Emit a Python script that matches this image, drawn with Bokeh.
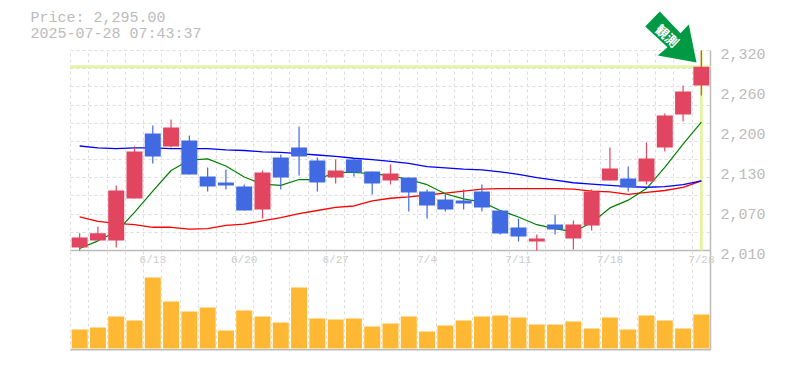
from bokeh.plotting import figure
from bokeh.embed import file_html
from bokeh.resources import INLINE
from bokeh.models import (Range1d, FixedTicker, Grid, Label, PolyAnnotation)
from bokeh.core.properties import value

opens  = [2014.6,2025.5,2025.5,2090.6,2191.4,2171.2,2180.5,2124.7,2115.4,2109.2,2073.6,2154.2,2169.7,2149.5,2123.2,2151.0,2132.5,2118.5,2123.2,2101.5,2089.0,2087.5,2101.5,2072.0,2045.7,2024.0,2050.3,2028.6,2048.8,2118.5,2121.6,2117.0,2169.7,2220.8,2265.8]
closes = [2030.2,2036.8,2103.0,2163.5,2155.7,2200.7,2127.8,2109.2,2110.8,2072.0,2130.9,2123.2,2155.7,2115.4,2134.0,2130.9,2113.9,2129.4,2099.9,2079.8,2073.6,2082.9,2076.7,2036.4,2031.7,2028.6,2042.6,2050.3,2101.5,2137.1,2107.7,2152.6,2219.3,2256.5,2295.0]
highs  = [2036.8,2047.0,2110.8,2171.2,2203.8,2213.0,2188.3,2138.7,2135.6,2112.3,2134.0,2158.8,2202.2,2154.2,2151.0,2152.6,2132.5,2143.3,2123.2,2104.6,2098.4,2104.6,2112.3,2072.0,2059.6,2034.8,2065.8,2056.5,2104.6,2169.7,2140.2,2177.4,2222.4,2265.8,2320.0]
lows   = [2010.0,2025.5,2014.6,2090.6,2144.9,2169.7,2127.8,2101.5,2104.6,2072.0,2059.6,2104.6,2126.3,2101.5,2113.9,2124.7,2096.8,2112.3,2070.5,2059.6,2070.5,2073.6,2070.5,2034.8,2024.0,2010.0,2034.8,2011.5,2041.0,2118.5,2101.5,2112.3,2163.5,2210.0,2250.3]
ma_green = [2013,2025,2039,2069,2102,2134,2150,2152,2141,2124,2113,2111,2120,2120,2131,2131,2129,2126,2120,2112,2098,2090,2085,2072,2062,2050,2044,2039,2053,2076,2088,2106,2139,2175,2209]
ma_red   = [2062,2055,2052,2050,2046,2046,2043,2044,2049,2051,2056,2061,2067,2072,2077,2079,2087,2091,2093,2096,2099,2102,2105,2106,2106,2106,2106,2105,2102,2101,2097,2100,2103,2108,2118]
ma_blue  = [2172,2169,2168,2169,2169,2168,2168,2168,2166,2165,2163,2162,2160,2158,2156,2153,2151,2148,2145,2140,2138,2136,2135,2132,2128,2123,2119,2115,2113,2111,2109,2108,2109,2112,2118]
volumes  = [19,21,32,28,71,47,37,41,18,38,32,26,61,30,29,30,22,25,32,17,23,28,32,33,31,24,24,27,20,31,19,33,28,20,34]
date_idx = [4,9,14,19,24,29,34]
date_lbl = ["6/13","6/20","6/27","7/4","7/11","7/18","7/28"]
y_ticks  = [2010,2072,2134,2196,2258,2320]
y_labels = ["2,010","2,070","2,130","2,200","2,260","2,320"]
last_price = 2295.0
title1 = "Price: 2,295.00"
title2 = "2025-07-28 07:43:37"
badge = "観測"

RED, BLUE, GREY = "#E24560", "#4169E1", "#bbbbbb"
n = len(closes)
xs = [i + 0.5 for i in range(n)]
PRICE_BOTTOM, PRICE_TOP, PANEL_BOTTOM = 2010, 2320, 1855

# the frame fills the canvas so the header, badge and outer labels are not clipped
p = figure(frame_width=785, frame_height=350, width=785, height=370,
           output_backend="svg", toolbar_location=None, tools="",
           x_axis_location=None, y_axis_location=None,
           x_range=Range1d(-70 * n / 640, n + 75 * n / 640),
           y_range=Range1d(PANEL_BOTTOM, PRICE_TOP + 77.5),
           min_border_left=0, min_border_right=0, min_border_top=0, min_border_bottom=20)
p.outline_line_color = None
p.grid.visible = False
p.background_fill_color = "white"

dash = "3 3"
p.add_layout(Grid(dimension=0, ticker=FixedTicker(ticks=list(range(n + 1))),
                  cross_bounds=(PANEL_BOTTOM, PRICE_TOP),
                  axis=None, grid_line_color="#dddddd", grid_line_dash=dash))
p.add_layout(Grid(dimension=1, ticker=FixedTicker(ticks=[2010 + i * 310 / 11 for i in range(12)]),
                  cross_bounds=(0, n),
                  axis=None, grid_line_color="#dddddd", grid_line_dash=dash))

p.extra_y_ranges = {"vol": Range1d(-2, 348)}
p.vbar(xs, 0.875, volumes, 0, y_range_name="vol", color="#FFB833", line_color=None)

p.segment(0, PRICE_BOTTOM, n, PRICE_BOTTOM, line_color=GREY, line_width=1.5)
p.segment(0, PANEL_BOTTOM, n, PANEL_BOTTOM, line_color=GREY, line_width=3)
p.segment(n, PANEL_BOTTOM, n, PRICE_TOP, line_color=GREY, line_width=1.5)

p.segment(0, last_price, n, last_price, line_color="#E4F4A6", line_width=3)
p.segment(xs[-1], PRICE_BOTTOM, xs[-1], PRICE_TOP, line_color="#E4F4A6", line_width=3)

p.line(xs, ma_red, line_color="#ff0000", line_width=1.3)
p.line(xs, ma_blue, line_color="#0000ff", line_width=1.3)
p.line(xs, ma_green, line_color="#008000", line_width=1.2)

cols = [RED if c >= o else BLUE for o, c in zip(opens, closes)]
p.segment(xs, lows, xs, highs, line_color=cols, line_width=1.2)
p.vbar(xs, 0.875, [max(a, b) for a, b in zip(opens, closes)],
       [min(a, b) for a, b in zip(opens, closes)], fill_color=cols, line_color=None)

p.text(x=[n] * len(y_ticks), y=y_ticks, text=y_labels, x_offset=10, y_offset=3,
       text_font=value("Liberation Mono"), text_font_size="15px", text_color=GREY,
       text_align="left", text_baseline="middle")

p.text(x=[xs[i] for i in date_idx], y=[PRICE_BOTTOM - 9.5 * 1.55] * len(date_idx), text=date_lbl,
       text_font=value("Liberation Mono"), text_font_size="11px", text_color="#cccccc",
       text_align="center", text_baseline="middle")

def fy(y):
    return 350 - y

for txt, y in ((title1, 18), (title2, 33.5)):
    p.add_layout(Label(x=30, y=fy(y), x_units="screen", y_units="screen", text=txt,
                       text_font="Liberation Mono", text_font_size="15px", text_color=GREY,
                       text_baseline="middle"))

arrow_x = [659.3, 644.7, 667, 657.3, 696, 688.3, 680]
arrow_y = [11, 26, 46.7, 55, 62, 24, 32.7]
p.add_layout(PolyAnnotation(xs=arrow_x, ys=[fy(v) for v in arrow_y],
                            xs_units="screen", ys_units="screen",
                            fill_color="#009944", fill_alpha=1, line_color=None))
p.add_layout(Label(x=667, y=fy(35), x_units="screen", y_units="screen", text=badge,
                   angle=-43, angle_units="deg", text_font="Noto Sans CJK JP",
                   text_font_size="13px", text_font_style="bold", text_color="white",
                   text_align="center", text_baseline="middle"))

open("out.html", "w").write(file_html(p, INLINE))
